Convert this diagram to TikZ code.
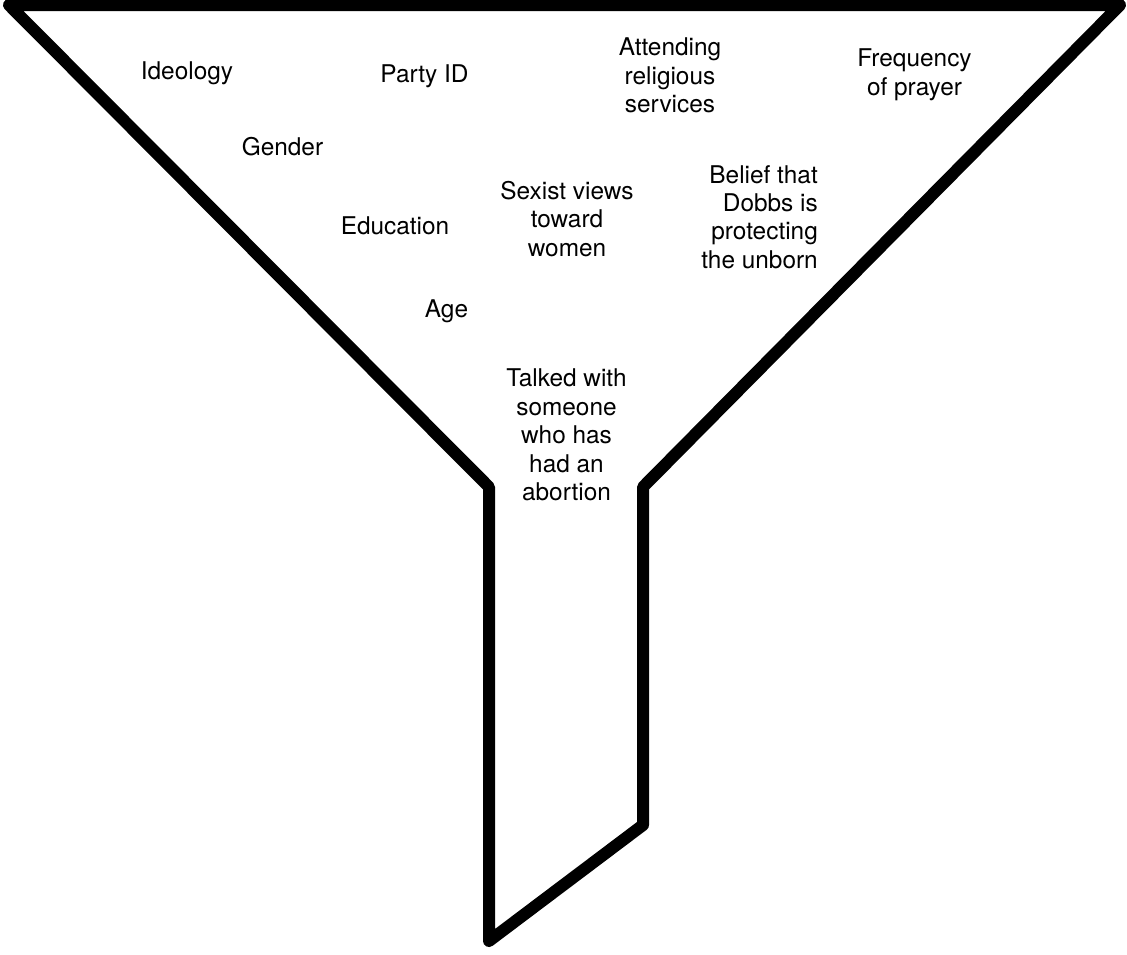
\documentclass[tikz,border=0pt]{standalone}
\usepackage{fontspec}
\setmainfont{TeX Gyre Heros}
\usepackage{tikz}
\usetikzlibrary{positioning}
\tikzstyle{factor} = [inner sep=0pt, align=center, font=\fontsize{24.4}{28.4}\selectfont]
\tikzstyle{funnel} = [line width=12pt, line join=round, draw=black]

\begin{document}
\begin{tikzpicture}[x=1pt, y=-1pt]
\useasboundingbox (0,0) rectangle (1127,954);
\draw [funnel] (9,5) -- (489,487) -- (489,941) -- (643,825) -- (643,487) -- (1120,5) -- cycle;
\node (ideology) [factor, anchor=base] at (187,79) {Ideology};
\node (party) [factor, anchor=base] at (424.5,82) {Party ID};
\node (attend) [factor, anchor=north] at (670,38) {Attending\\religious\\services};
\node (prayer) [factor, anchor=north] at (914.5,49) {Frequency\\of prayer};
\node (gender) [factor, anchor=base] at (282.5,155) {Gender};
\node (sexist) [factor, anchor=north] at (567,181) {Sexist views\\toward\\women};
\node (dobbs) [factor, anchor=north east, align=right] at (818,165) {Belief that\\Dobbs is\\protecting\\the unborn};
\node (education) [factor, anchor=base] at (395,234) {Education};
\node (age) [factor, anchor=base] at (446.5,317) {Age};
\node (talked) [factor, anchor=north] at (566.5,369) {Talked with\\someone\\who has\\had an\\abortion};
\end{tikzpicture}
\end{document}
